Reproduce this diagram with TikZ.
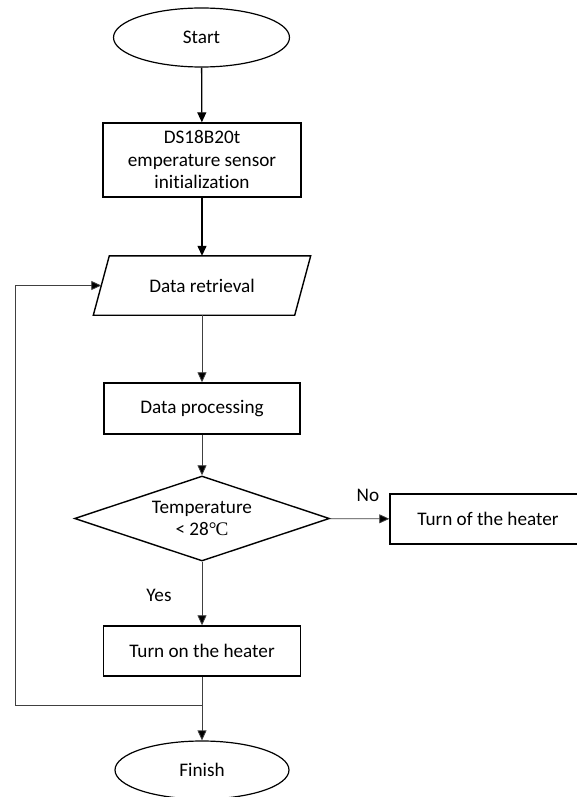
\documentclass[tikz,border=0pt]{standalone}
\usepackage{fontspec}
\setmainfont{Carlito}[Ligatures=NoCommon]
\newfontfamily\serifdeg{Liberation Serif}
\usetikzlibrary{shapes.geometric,arrows.meta}
\begin{document}
\begin{tikzpicture}[x=1pt,y=-1pt,
  box/.style={draw,line width=1.4pt,rectangle,inner sep=0pt,align=center},
  term/.style={draw,line width=1.2pt,ellipse,inner sep=0pt,minimum width=176pt,minimum height=59pt},
  thickarr/.style={line width=1.3pt,-{Triangle[length=10pt,width=9pt]}},
  thinarr/.style={line width=0.8pt,draw=black!75,-{Triangle[length=10pt,width=9pt,fill=black]}},
  lbl/.style={inner sep=0pt},
  font=\fontsize{19.2}{22.5}\selectfont]
\useasboundingbox (0,0) rectangle (577,797);
\node[term] (start) at (201.5,37.5) {Start};
\node[box,minimum width=198pt,minimum height=74pt] (ds) at (202,160) {DS18B20t\\emperature sensor\\initialization};
\node[rectangle,inner sep=0pt,minimum width=201pt,minimum height=59pt] (ret) at (202,285.5) {Data retrieval};
\draw[line width=1.4pt] ([xshift=8pt]ret.north west) -- ([xshift=8pt]ret.north east) -- ([xshift=-8pt]ret.south east) -- ([xshift=-8pt]ret.south west) -- cycle;
\node[box,minimum width=196pt,minimum height=51pt] (proc) at (202,408.5) {Data processing};
\node[draw,line width=1.4pt,diamond,shape aspect=3,inner sep=0pt,minimum width=255pt,minimum height=85pt,align=center] (dec) at (202,518.5) {Temperature\\< 28{\serifdeg °\kern-0.05em C}};
\node[box,minimum width=196pt,minimum height=50pt] (toff) at (488,519) {Turn of the heater};
\node[box,minimum width=197pt,minimum height=50pt] (on) at (202,651) {Turn on the heater};
\node[term,minimum width=174pt,minimum height=58pt] (finish) at (202,770) {Finish};
\node[lbl] (no) at (368,495) {No};
\node[lbl] (yes) at (159,595) {Yes};
\coordinate (j) at (202,705);
\coordinate (lc) at (15,705);
\draw[thickarr] (start) -- (ds);
\draw[thickarr] (ds) -- (ret);
\draw[thinarr] (ret) -- (proc);
\draw[thinarr] (proc) -- (dec);
\draw[thinarr] (dec) -- (toff);
\draw[thinarr] (dec) -- (on);
\draw[thinarr] (on) -- (finish);
\draw[thinarr] (j) -- (lc) |- (ret.west);
\end{tikzpicture}
\end{document}
